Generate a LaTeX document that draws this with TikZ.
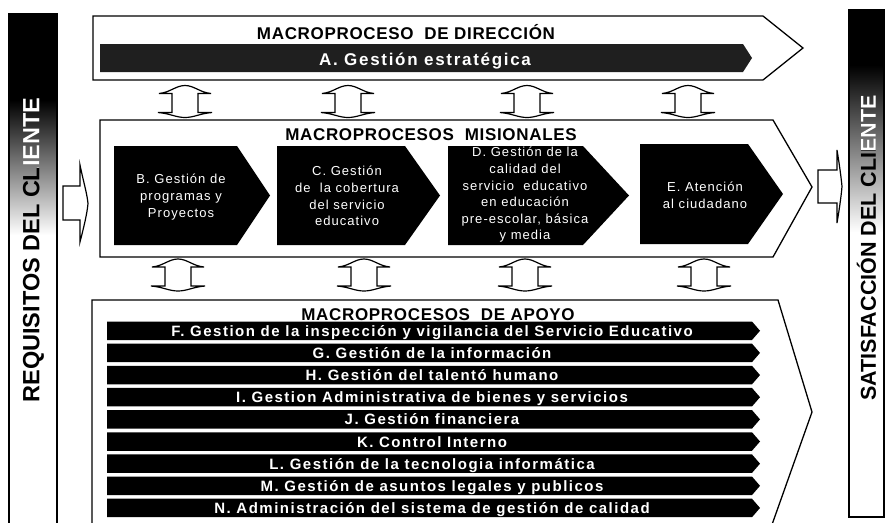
\documentclass[tikz,border=0pt]{standalone}
\usepackage{fontspec}
\setmainfont{Liberation Sans}
\newfontfamily\titlefont[LetterSpace=4]{Liberation Sans}
\newfontfamily\widefont[LetterSpace=10]{Liberation Sans}
\newfontfamily\pentfont[LetterSpace=8]{Liberation Sans}
\begin{document}
\begin{tikzpicture}[x=1pt,y=-1pt,
  outline/.style={draw=black,line width=1.3pt,fill=white,line join=miter},
  blackshape/.style={fill=black},
  ttl/.style={font=\titlefont\bfseries\fontsize{17}{20}\selectfont,inner sep=0pt,anchor=base},
  atext/.style={text=white,font=\widefont\bfseries\fontsize{17}{20}\selectfont,inner sep=0pt,anchor=base},
  ptext/.style={text=white,align=center,font=\pentfont\fontsize{13}{16.6}\selectfont,inner sep=0pt},
  bartext/.style={text=white,font=\widefont\bfseries\fontsize{15}{17}\selectfont,inner sep=0pt,anchor=base},
  sidetextl/.style={rotate=90,font=\bfseries\fontsize{23.5}{26}\selectfont,inner sep=0pt},
  sidetextr/.style={rotate=90,font=\bfseries\fontsize{21.5}{24}\selectfont,inner sep=0pt},
  blockarrow/.style={draw=black,line width=1.2pt,fill=white,line join=miter},
  dblarrow/.pic={
    \draw[blockarrow]
    (-13,-8) -- (-26,-8) .. controls (-15,-9) and (-9,-16) .. (0,-16)
    .. controls (9,-16) and (15,-9) .. (26,-8) -- (13,-8) -- (13,11) -- (27,11)
    .. controls (15,12) and (9,16) .. (0,16) .. controls (-9,16) and (-15,12) .. (-27,11)
    -- (-13,11) -- cycle;
  }
]
\useasboundingbox (0,0) rectangle (885,522);
\fill[white] (0,0) rectangle (885,522);

% ---------- left side bar ----------
\fill[black] (9,14) rectangle (57,100);
\shade[top color=black,bottom color=white] (9,100) rectangle (57,235);
\draw[line width=1.3pt] (9,526) -- (9,14) -- (57,14) -- (57,526);
\node[sidetextl] (req) at (33.5,250) {REQUISITOS DEL CLIENTE};
\begin{scope}
  \clip (9,14) rectangle (57,167);
  \node[sidetextl,text=white] (reqw) at (33.5,250) {REQUISITOS DEL CLIENTE};
\end{scope}

% ---------- right side bar ----------
\fill[black] (849,10) rectangle (884,65);
\shade[top color=black,bottom color=white] (849,65) rectangle (884,232);
\draw[line width=1.3pt] (849,10) rectangle (884,517);
\node[sidetextr] (sat) at (866.5,248) {SATISFACCIÓN DEL CLIENTE};
\begin{scope}
  \clip (849,10) rectangle (884,149);
  \node[sidetextr,text=white] (satw) at (866.5,248) {SATISFACCIÓN DEL CLIENTE};
\end{scope}

% ---------- side arrows ----------
\draw[blockarrow] (63,186) -- (80,186) -- (80,165)
  .. controls (83,180) and (87,193) .. (88,203.5)
  .. controls (87,215) and (83,230) .. (80,242) -- (80,220) -- (63,220) -- cycle;
\draw[blockarrow] (818,170) -- (837,170) -- (837,150)
  .. controls (839,162) and (841,176) .. (842,186.5)
  .. controls (841,198) and (839,211) .. (837,223) -- (837,203) -- (818,203) -- cycle;

% ---------- direction ----------
\draw[outline] (93,16) -- (763,16) -- (803,48) -- (763,80) -- (93,80) -- cycle;
\node[ttl] (tdir) at (406,39) {MACROPROCESO\ \ DE DIRECCIÓN};
\fill[black!88] (100,44) -- (743,44) -- (752,58) -- (743,72) -- (100,72) -- cycle;
\node[atext] (ga) at (425,65) {A. Gestión estratégica};

% ---------- double arrows row 1 ----------
\pic at (185,101.5) {dblarrow};
\pic at (348,101.5) {dblarrow};
\pic at (527,101.5) {dblarrow};
\pic at (688,101.5) {dblarrow};

% ---------- misionales ----------
\draw[outline] (100,120) -- (773,120) -- (812,187) -- (773,257) -- (100,257) -- cycle;
\node[ttl] (tmis) at (431,140) {MACROPROCESOS\ \ MISIONALES};
\fill[black] (114,146) -- (237,146) -- (270,195.5) -- (237,245) -- (114,245) -- cycle;
\node[ptext] (gb) at (181,197) {B. Gestión de\\programas y\\Proyectos};
\fill[black] (277,146) -- (405,146) -- (440,195.5) -- (405,245) -- (277,245) -- cycle;
\node[ptext] (gc) at (347,196) {C. Gestión\\de\ \ la cobertura\\del servicio\\educativo};
\fill[black] (448,146) -- (583,146) -- (629,195.5) -- (583,245) -- (448,245) -- cycle;
\node[ptext] (gd) at (525,195) {D. Gestión de la\\calidad del\\servicio\ \ educativo\\en educación\\pre-escolar, básica\\y media};
\fill[black] (640,144) -- (748,144) -- (783,194) -- (748,244) -- (640,244) -- cycle;
\node[ptext] (ge) at (705,195) {E. Atención\\al ciudadano};

% ---------- double arrows row 2 ----------
\pic at (178,275) {dblarrow};
\pic at (364,275) {dblarrow};
\pic at (525,275) {dblarrow};
\pic at (704,275) {dblarrow};

% ---------- apoyo ----------
\draw[outline] (92,526) -- (92,300) -- (778,300) -- (812,412) -- (771.5,526);
\node[ttl] (tapo) at (438,320) {MACROPROCESOS\ \ DE APOYO};
\foreach \t [count=\i from 0] in {
  F. Gestion de la inspección y vigilancia del Servicio Educativo,
  G. Gestión de la información,
  H. Gestión del talentó humano,
  I. Gestion Administrativa de bienes y servicios,
  J. Gestión financiera,
  K. Control Interno,
  L. Gestión de la tecnologia informática,
  M. Gestión de asuntos legales y publicos,
  N. Administración del sistema de gestión de calidad} {
  \pgfmathsetmacro\yt{321.5+22.15*\i}
  \pgfmathsetmacro\yb{\yt+18.5}
  \pgfmathsetmacro\ym{\yt+9.25}
  \fill[black] (107,\yt) -- (752,\yt) -- (760,\ym) -- (752,\yb) -- (107,\yb) -- cycle;
  \node[bartext] (bar\i) at (432,\ym+5.5) {\t};
}
\end{tikzpicture}
\end{document}
